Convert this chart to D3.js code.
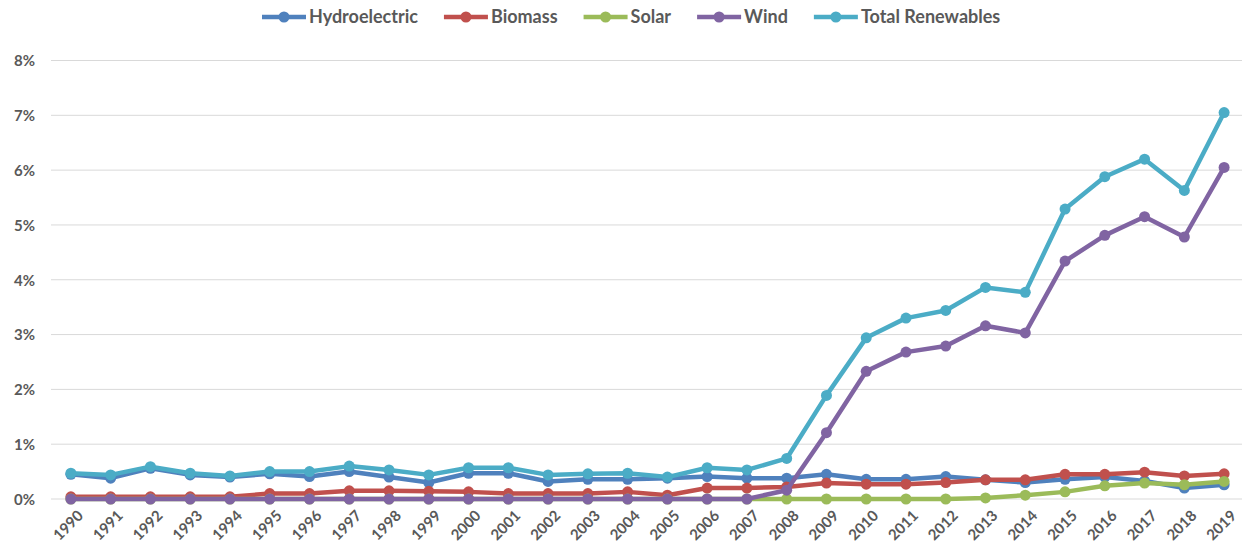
<!DOCTYPE html>
<html>
<head>
<meta charset="utf-8">
<script src="https://cdn.jsdelivr.net/npm/d3@7"></script>
<style>
  html, body { margin: 0; padding: 0; background: #fff; }
  svg { display: block; }
  text { font-family: Lato, "Open Sans", sans-serif; font-weight: bold; fill: #595959; }
</style>
</head>
<body>
<svg id="chart" width="1242" height="554"></svg>
<script>
const years = d3.range(1990, 2020).map(String);
const yTicks = [0, 1, 2, 3, 4, 5, 6, 7, 8];
const seriesNames = ["Hydroelectric", "Biomass", "Solar", "Wind", "Total Renewables"];
const seriesColors = ["#4f81bd", "#c0504d", "#9bbb59", "#8064a2", "#4bacc6"];

const hydroelectric = [0.45, 0.38, 0.56, 0.44, 0.40, 0.46, 0.41, 0.50, 0.40, 0.30,
                       0.47, 0.47, 0.32, 0.36, 0.36, 0.38, 0.41, 0.38, 0.38, 0.45,
                       0.36, 0.36, 0.41, 0.35, 0.30, 0.36, 0.40, 0.33, 0.20, 0.26];
const biomass = [0.04, 0.04, 0.04, 0.04, 0.04, 0.10, 0.10, 0.15, 0.15, 0.14,
                 0.13, 0.10, 0.10, 0.10, 0.13, 0.07, 0.20, 0.20, 0.22, 0.29,
                 0.27, 0.27, 0.30, 0.35, 0.35, 0.45, 0.45, 0.49, 0.42, 0.46];
const solar = [0, 0, 0, 0, 0, 0, 0, 0, 0, 0,
               0, 0, 0, 0, 0, 0, 0, 0, 0, 0,
               0, 0, 0, 0.02, 0.07, 0.13, 0.24, 0.29, 0.26, 0.32];
const wind = [0, 0, 0, 0, 0, 0, 0, 0, 0, 0,
              0, 0, 0, 0, 0, 0, 0, 0, 0.16, 1.21,
              2.33, 2.68, 2.79, 3.16, 3.03, 4.34, 4.81, 5.15, 4.78, 6.05];
const totalRenewables = [0.47, 0.44, 0.59, 0.47, 0.42, 0.50, 0.50, 0.60, 0.53, 0.44,
                         0.57, 0.57, 0.44, 0.46, 0.47, 0.40, 0.57, 0.53, 0.74, 1.89,
                         2.94, 3.30, 3.44, 3.86, 3.77, 5.29, 5.88, 6.20, 5.63, 7.05];

const seriesValues = [hydroelectric, biomass, solar, wind, totalRenewables];

const svg = d3.select("#chart");
const plotLeft = 51, plotRight = 1244, plotTop = 60.5, plotBottom = 499;

const x = d3.scalePoint().domain(years).range([plotLeft, plotRight]).padding(0.5);
const y = d3.scaleLinear().domain([0, 8]).range([plotBottom, plotTop]);

// gridlines
svg.append("g").selectAll("line").data(yTicks).join("line")
  .attr("x1", plotLeft).attr("x2", 1242)
  .attr("y1", d => y(d)).attr("y2", d => y(d))
  .attr("stroke", "#d9d9d9").attr("stroke-width", 1);

// y axis labels
const yAxis = d3.axisLeft(y).tickValues(yTicks).tickFormat(d => d + "%").tickSize(0).tickPadding(0);
const yg = svg.append("g").attr("transform", "translate(35,0)").call(yAxis);
yg.select(".domain").remove();
yg.selectAll("text").attr("font-size", 15).attr("font-family", null).attr("fill", "#595959").attr("dy", "0.35em");

// x axis labels
const xAxis = d3.axisBottom(x).tickSize(0).tickPadding(0);
const xg = svg.append("g").attr("transform", `translate(0,${plotBottom})`).call(xAxis);
xg.select(".domain").remove();
xg.selectAll("text")
  .attr("font-size", 15).attr("font-family", null).attr("fill", "#595959")
  .attr("text-anchor", "end")
  .attr("y", 0).attr("dy", "0.35em")
  .attr("transform", "translate(9,14) rotate(-45)");

// lines
const line = d3.line().x((d, i) => x(years[i])).y(d => y(d));
seriesValues.forEach((vals, si) => {
  const g = svg.append("g");
  g.append("path").datum(vals)
    .attr("d", line)
    .attr("fill", "none")
    .attr("stroke", seriesColors[si])
    .attr("stroke-width", 4.5)
    .attr("stroke-linejoin", "round")
    .attr("stroke-linecap", "round");
  g.selectAll("circle").data(vals).join("circle")
    .attr("cx", (d, i) => x(years[i]))
    .attr("cy", d => y(d))
    .attr("r", 5.5)
    .attr("fill", seriesColors[si]);
});

// legend
const legend = svg.append("g");
let lx = 262;
const ly = 17;
seriesNames.forEach((name, i) => {
  const g = legend.append("g");
  g.append("line").attr("x1", lx).attr("x2", lx + 44).attr("y1", ly).attr("y2", ly)
    .attr("stroke", seriesColors[i]).attr("stroke-width", 4.5);
  g.append("circle").attr("cx", lx + 22).attr("cy", ly).attr("r", 5.5).attr("fill", seriesColors[i]);
  const t = g.append("text").attr("x", lx + 47).attr("y", ly).attr("dy", "0.35em")
    .attr("font-size", 18).text(name);
  const w = t.node().getComputedTextLength();
  lx = lx + 47 + w + 26;
});
</script>
</body>
</html>
